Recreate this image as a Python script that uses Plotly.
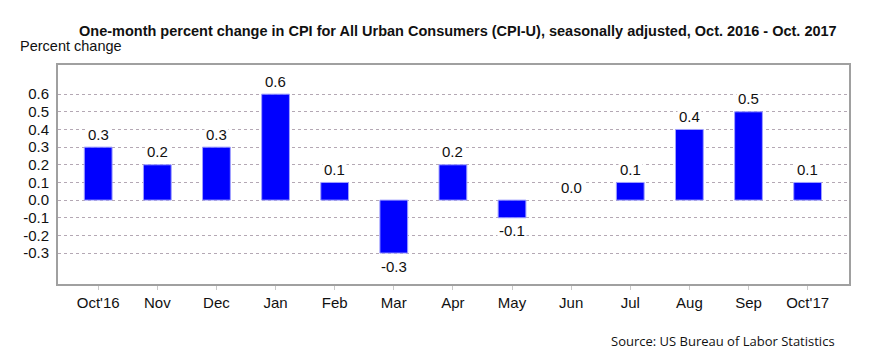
import plotly.graph_objects as go

months = ["Oct'16", "Nov", "Dec", "Jan", "Feb", "Mar", "Apr", "May", "Jun", "Jul", "Aug", "Sep", "Oct'17"]
values = [0.3, 0.2, 0.3, 0.6, 0.1, -0.3, 0.2, -0.1, 0.0, 0.1, 0.4, 0.5, 0.1]
y_ticks = [0.6, 0.5, 0.4, 0.3, 0.2, 0.1, 0.0, -0.1, -0.2, -0.3]
title = "One-month percent change in CPI for All Urban Consumers (CPI-U), seasonally adjusted, Oct. 2016 - Oct. 2017"

fig = go.Figure()
fig.add_trace(go.Bar(
    x=months, y=values, width=0.47,
    marker=dict(color="#0000FF",
                line=dict(color="#a0a0ff", width=[1 if v != 0 else 0 for v in values])),
    hoverinfo="x+y",
))

for m, v in zip(months, values):
    fig.add_annotation(
        x=m, y=v, text=f"{v:.1f}", showarrow=False,
        yshift=13 if v >= 0 else -13, bgcolor="white",
        font=dict(family="Liberation Sans, Arial", size=15, color="#111"),
        borderpad=1,
    )

fig.update_layout(
    width=880, height=361,
    margin=dict(l=50, r=39, t=57, b=85),
    plot_bgcolor="white", paper_bgcolor="white",
    showlegend=False,
    font=dict(family="Liberation Sans, Arial", size=15, color="#111"),
    xaxis=dict(
        range=[-0.68, 12.7],
        showgrid=False, showline=True, linecolor="#a0a0a0", linewidth=2, mirror=True,
        ticks="outside", ticklen=4, tickcolor="#c8c8c8", tickfont=dict(size=15),
    ),
    yaxis=dict(
        range=[-0.475, 0.765], tickvals=y_ticks, ticktext=[f"{t:.1f}" for t in y_ticks],
        showgrid=True, gridcolor="#b4a8b4", griddash="dot", gridwidth=1,
        showline=True, linecolor="#a0a0a0", linewidth=2, mirror=True,
        zeroline=False, ticks="", tickfont=dict(size=15), ticklabelstandoff=4,
    ),
)

fig.add_annotation(
    text="<b>" + title + "</b>", xref="paper", yref="paper", x=0.5, xshift=4, y=1, yshift=24,
    xanchor="center", yanchor="bottom", showarrow=False,
    font=dict(family="Liberation Sans, Arial", size=14.5, color="#111"),
)
fig.add_annotation(
    text="Percent change", xref="paper", yref="paper", x=0, xshift=-40, y=1, yshift=9,
    xanchor="left", yanchor="bottom", showarrow=False,
    font=dict(family="Liberation Sans, Arial", size=14.5, color="#111"),
)
fig.add_annotation(
    text="Source: US Bureau of Labor Statistics", xref="paper", yref="paper",
    x=1, xshift=-12, y=0, yshift=-68, xanchor="right", yanchor="bottom", showarrow=False,
    font=dict(family="Open Sans", size=13, color="#111"),
)

fig.write_html("out.html")
